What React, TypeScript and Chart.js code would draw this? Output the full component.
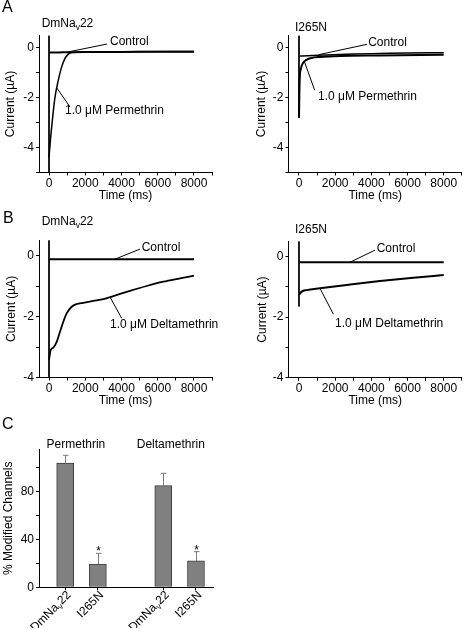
import React, { useEffect, useRef } from 'react';
import { Chart, registerables } from 'chart.js';

Chart.register(...registerables);

const FONT = "'Liberation Sans', Arial, Helvetica, sans-serif";
Chart.defaults.font.family = FONT;
Chart.defaults.font.size = 12;
Chart.defaults.color = '#000';

// ---------- shared axes ----------
const TIME_TICKS = [0, 1000, 2000, 3000, 4000, 5000, 6000, 7000, 8000, 9000];
const TIME_LABELS = [0, 2000, 4000, 6000, 8000];
const A_CURRENT_TICKS = [-5, -4, -3, -2, -1, 0];
const B_CURRENT_TICKS = [-4, -3, -2, -1, 0];
const CURRENT_LABELS = [-4, -2, 0];

// ---------- Panel A: permethrin ----------
const A_WT_CTRL_T = [0, 500, 1000, 2000, 4000, 6000, 8000];
const A_WT_CTRL_I = [-0.18, -0.18, -0.17, -0.16, -0.16, -0.15, -0.15];
const A_WT_PER_T = [0, 93, 203, 331, 515, 699, 883, 1067, 1250, 2000, 4000, 8000];
const A_WT_PER_I = [-4.39, -3.58, -2.77, -1.97, -1.29, -0.76, -0.42, -0.25, -0.18, -0.16, -0.15, -0.14];
const A_WT_TRANS_T = [0, 0];
const A_WT_TRANS_I = [0.5, -5];

const A_MUT_CTRL_T = [0, 500, 1500, 3000, 4500, 6000, 8000];
const A_MUT_CTRL_I = [-0.33, -0.31, -0.28, -0.24, -0.22, -0.2, -0.19];
const A_MUT_PER_T = [0, 37, 110, 200, 385, 700, 1160, 2270, 4480, 8000];
const A_MUT_PER_I = [-2.8, -1.29, -0.82, -0.63, -0.49, -0.4, -0.36, -0.32, -0.3, -0.27];
const A_MUT_TRANS_T = [0, 0];
const A_MUT_TRANS_I = [0.5, -2.8];

// ---------- Panel B: deltamethrin ----------
const B_WT_CTRL_T = [0, 2000, 4000, 6000, 8000];
const B_WT_CTRL_I = [-0.12, -0.12, -0.12, -0.12, -0.12];
const B_WT_DEL_T = [0, 94, 237, 425, 607, 790, 975, 1250, 1530, 1895, 2447, 3000, 3550, 4470, 5390, 6310, 7230, 8000];
const B_WT_DEL_I = [-3.43, -3.1, -3.02, -2.83, -2.5, -2.17, -1.9, -1.68, -1.59, -1.55, -1.49, -1.43, -1.33, -1.16, -1.0, -0.86, -0.75, -0.66];
const B_WT_TRANS_T = [0, 0];
const B_WT_TRANS_I = [0.5, -4];

const B_MUT_CTRL_T = [0, 2000, 4000, 6000, 8000];
const B_MUT_CTRL_I = [-0.19, -0.19, -0.19, -0.19, -0.19];
const B_MUT_DEL_T = [0, 150, 425, 1160, 2640, 4480, 6320, 8000];
const B_MUT_DEL_I = [-1.27, -1.16, -1.11, -1.05, -0.94, -0.81, -0.7, -0.61];
const B_MUT_TRANS_T = [0, 0];
const B_MUT_TRANS_I = [0.5, -1.65];

// ---------- Panel C: % modified channels ----------
const C_POS = [1, 2, 4, 5];
const C_VALUES = [103.6, 19.4, 84.7, 22.0];
const C_ERRORS = [6.4, 8.9, 10.3, 7.7];
const C_SIGNIFICANT = [false, true, false, true];
const C_GROUPS = ['Permethrin', 'Deltamethrin'];
const C_TICKS = [0, 20, 40, 60, 80, 100];
const C_LABELS = [0, 40, 80];

type Seg = { t: string; sub?: boolean };
const DMNAV22: Seg[] = [{ t: 'DmNa' }, { t: 'v', sub: true }, { t: '22' }];
const I265N: Seg[] = [{ t: 'I265N' }];
const C_CATEGORY_LABELS: Seg[][] = [DMNAV22, I265N, DMNAV22, I265N];

// ---------- helpers ----------
function setFont(ctx: CanvasRenderingContext2D, size: number) {
  ctx.font = `${size}px ${FONT}`;
}
function richWidth(ctx: CanvasRenderingContext2D, segs: Seg[], size: number) {
  let w = 0;
  for (const s of segs) {
    setFont(ctx, s.sub ? size * 0.7 : size);
    w += ctx.measureText(s.t).width;
  }
  return w;
}
function drawRich(ctx: CanvasRenderingContext2D, segs: Seg[], x: number, y: number, size: number, align: 'left' | 'center' | 'right') {
  const w = richWidth(ctx, segs, size);
  let cx = align === 'right' ? x - w : align === 'center' ? x - w / 2 : x;
  ctx.textAlign = 'left';
  ctx.textBaseline = 'middle';
  ctx.fillStyle = '#000';
  for (const s of segs) {
    const sz = s.sub ? size * 0.7 : size;
    setFont(ctx, sz);
    ctx.fillText(s.t, cx, s.sub ? y + size * 0.32 : y);
    cx += ctx.measureText(s.t).width;
  }
}

type Rect = { left: number; top: number; w: number; h: number };
type Area = { left: number; top: number; right: number; bottom: number };
type Note = { segs: Seg[]; tx: number; ty: number; lx1: number; ly1: number; lx2: number; ly2: number };
type Label = { segs: Seg[]; x: number; y: number; size: number };

type LinePanel = {
  rect: Rect;
  area: Area;
  xMin: number;
  xMax: number;
  yMin: number;
  yMax: number;
  yTicks: number[];
  yTitleX: number;
  xTitleY: number;
  traces: { t: number[]; i: number[]; w: number }[];
  transient: { t: number[]; i: number[] };
  notes: Note[];
  labels: Label[];
};

function layoutFor(rect: Rect, area: Area, yTitleX: number, xTitleY: number | null) {
  const L = area.left - rect.left;
  const T = area.top - rect.top;
  const R = area.right - rect.left;
  const B = area.bottom - rect.top;
  const half = 7.2;
  const padLeft = yTitleX - half;
  const yW = L - padLeft;
  const scaleBottom = xTitleY == null ? rect.h : xTitleY + half;
  const xH = scaleBottom - B;
  const padBottom = rect.h - scaleBottom;
  return { padding: { left: padLeft, top: T, right: rect.w - R, bottom: padBottom }, yW, xH };
}

function linePanelConfig(p: LinePanel): any {
  const lay = layoutFor(p.rect, p.area, p.yTitleX, p.xTitleY);
  const plugin = {
    id: 'notes',
    afterDatasetsDraw(chart: any) {
      const ctx = chart.ctx as CanvasRenderingContext2D;
      const xs = chart.scales.x;
      const ys = chart.scales.y;
      ctx.save();
      ctx.strokeStyle = '#000';
      ctx.lineWidth = 1;
      for (const n of p.notes) {
        ctx.beginPath();
        ctx.moveTo(xs.getPixelForValue(n.lx1), ys.getPixelForValue(n.ly1));
        ctx.lineTo(xs.getPixelForValue(n.lx2), ys.getPixelForValue(n.ly2));
        ctx.stroke();
        drawRich(ctx, n.segs, xs.getPixelForValue(n.tx), ys.getPixelForValue(n.ty), 12, 'left');
      }
      for (const l of p.labels) {
        drawRich(ctx, l.segs, l.x, l.y, l.size, 'left');
      }
      ctx.restore();
    },
  };
  const datasets: any[] = p.traces.map((tr) => ({
    data: tr.t.map((t, k) => ({ x: t, y: tr.i[k] })),
    borderColor: '#000',
    borderWidth: tr.w,
    pointRadius: 0,
    fill: false,
    cubicInterpolationMode: 'monotone',
  }));
  datasets.push({
    data: p.transient.t.map((t, k) => ({ x: t, y: p.transient.i[k] })),
    borderColor: '#000',
    borderWidth: 1,
    pointRadius: 0,
    fill: false,
    tension: 0,
  });
  return {
    type: 'line',
    data: { datasets },
    options: {
      responsive: false,
      animation: false,
      events: [],
      layout: { padding: lay.padding },
      plugins: { legend: { display: false }, tooltip: { enabled: false }, title: { display: false } },
      scales: {
        x: {
          type: 'linear',
          min: p.xMin,
          max: p.xMax,
          afterBuildTicks: (s: any) => {
            s.ticks = TIME_TICKS.map((v) => ({ value: v }));
          },
          afterFit: (s: any) => {
            s.height = lay.xH;
          },
          ticks: {
            autoSkip: false,
            maxRotation: 0,
            minRotation: 0,
            padding: 1,
            color: '#000',
            font: { size: 12 },
            callback: (v: number) => (TIME_LABELS.includes(v) ? String(v) : ''),
          },
          grid: { drawOnChartArea: false, drawTicks: true, tickLength: 3, color: '#000' },
          border: { display: true, color: '#000', width: 1 },
          title: { display: true, text: 'Time (ms)', color: '#000', font: { size: 12 }, padding: 0 },
        },
        y: {
          type: 'linear',
          min: p.yMin,
          max: p.yMax,
          afterBuildTicks: (s: any) => {
            s.ticks = p.yTicks.map((v) => ({ value: v }));
          },
          afterFit: (s: any) => {
            s.width = lay.yW;
          },
          ticks: {
            autoSkip: false,
            padding: 2,
            color: '#000',
            font: { size: 12 },
            callback: (v: number) => (CURRENT_LABELS.includes(v) ? String(v) : ''),
          },
          grid: { drawOnChartArea: false, drawTicks: true, tickLength: 3, color: '#000' },
          border: { display: true, color: '#000', width: 1 },
          title: { display: true, text: 'Current (\u00B5A)', color: '#000', font: { size: 12 }, padding: 0 },
        },
      },
    },
    plugins: [plugin],
  };
}

function barPanelConfig(): any {
  const rect: Rect = { left: 0, top: 415, w: 232, h: 213 };
  const area: Area = { left: 39, top: 449.3, right: 213.3, bottom: 587.3 };
  const lay = layoutFor(rect, area, 8.3, null);
  const plugin = {
    id: 'barExtras',
    afterDatasetsDraw(chart: any) {
      const ctx = chart.ctx as CanvasRenderingContext2D;
      const xs = chart.scales.x;
      const ys = chart.scales.y;
      const bottom = chart.chartArea.bottom;
      ctx.save();
      // error bars (upper only)
      ctx.strokeStyle = '#7a7a7a';
      ctx.lineWidth = 1;
      C_POS.forEach((pos, i) => {
        const px = Math.round(xs.getPixelForValue(pos)) + 0.5;
        const yTop = ys.getPixelForValue(C_VALUES[i]);
        const yErr = ys.getPixelForValue(C_VALUES[i] + C_ERRORS[i]);
        ctx.beginPath();
        ctx.moveTo(px, yTop);
        ctx.lineTo(px, yErr);
        ctx.moveTo(px - 2.5, yErr);
        ctx.lineTo(px + 3, yErr);
        ctx.stroke();
        if (C_SIGNIFICANT[i]) {
          setFont(ctx, 12);
          ctx.fillStyle = '#000';
          ctx.textAlign = 'center';
          ctx.textBaseline = 'alphabetic';
          ctx.fillText('*', px, yErr + 2);
        }
      });
      // rotated category labels
      C_POS.forEach((pos, i) => {
        const px = xs.getPixelForValue(pos);
        ctx.save();
        ctx.translate(px + 4, bottom + 6);
        ctx.rotate(-Math.PI / 4);
        drawRich(ctx, C_CATEGORY_LABELS[i], 0, 0, 12, 'right');
        ctx.restore();
      });
      // group labels
      const groupX = [xs.getPixelForValue(1.33), xs.getPixelForValue(4.23)];
      C_GROUPS.forEach((g, i) => {
        drawRich(ctx, [{ t: g }], groupX[i], 30, 12, 'center');
      });
      // panel letter
      drawRich(ctx, [{ t: 'C' }], 2, 10, 16, 'left');
      ctx.restore();
    },
  };
  return {
    type: 'bar',
    data: {
      datasets: [
        {
          data: C_POS.map((x, i) => ({ x, y: C_VALUES[i] })),
          backgroundColor: '#808080',
          borderColor: '#3c3c3c',
          borderWidth: 1,
          barThickness: 17,
        },
      ],
    },
    options: {
      responsive: false,
      animation: false,
      events: [],
      layout: { padding: lay.padding },
      plugins: { legend: { display: false }, tooltip: { enabled: false } },
      scales: {
        x: {
          type: 'linear',
          offset: false,
          min: 0.2,
          max: 5.53,
          afterBuildTicks: (s: any) => {
            s.ticks = C_POS.map((v) => ({ value: v }));
          },
          afterFit: (s: any) => {
            s.height = lay.xH;
          },
          ticks: { autoSkip: false, maxRotation: 0, callback: () => '' },
          grid: { offset: false, drawOnChartArea: false, drawTicks: true, tickLength: 3, color: '#000' },
          border: { display: true, color: '#000', width: 1 },
        },
        y: {
          type: 'linear',
          min: 0,
          max: 115,
          afterBuildTicks: (s: any) => {
            s.ticks = C_TICKS.map((v) => ({ value: v }));
          },
          afterFit: (s: any) => {
            s.width = lay.yW;
          },
          ticks: {
            autoSkip: false,
            padding: 2,
            color: '#000',
            font: { size: 12 },
            callback: (v: number) => (C_LABELS.includes(v) ? String(v) : ''),
          },
          grid: { drawOnChartArea: false, drawTicks: true, tickLength: 3, color: '#000' },
          border: { display: true, color: '#000', width: 1 },
          title: { display: true, text: '% Modified Channels', color: '#000', font: { size: 12 }, padding: 0 },
        },
      },
    },
    plugins: [plugin],
  };
}

const PERM: Seg[] = [{ t: '1.0 \u03BCM Permethrin' }];
const DELTA: Seg[] = [{ t: '1.0 \u03BCM Deltamethrin' }];
const CONTROL: Seg[] = [{ t: 'Control' }];

const PANEL_A_WT: LinePanel = {
  rect: { left: 0, top: 0, w: 232, h: 208 },
  area: { left: 39, top: 35.5, right: 212.1, bottom: 172.5 },
  xMin: -552,
  xMax: 9000,
  yMin: -5,
  yMax: 0.5,
  yTicks: A_CURRENT_TICKS,
  yTitleX: 11,
  xTitleY: 196,
  traces: [
    { t: A_WT_CTRL_T, i: A_WT_CTRL_I, w: 2 },
    { t: A_WT_PER_T, i: A_WT_PER_I, w: 1.5 },
  ],
  transient: { t: A_WT_TRANS_T, i: A_WT_TRANS_I },
  notes: [
    { segs: CONTROL, tx: 3366, ty: 0.25, lx1: 3200, ly1: 0.157, lx2: 1048, ly2: -0.16 },
    { segs: PERM, tx: 883, ty: -2.5, lx1: 1159, ly1: -2.37, lx2: 425, ly2: -1.6 },
  ],
  labels: [
    { segs: [{ t: 'A' }], x: 2, y: 8, size: 16 },
    { segs: DMNAV22, x: 41.7, y: 24, size: 12 },
  ],
};

const PANEL_A_MUT: LinePanel = {
  rect: { left: 232, top: 0, w: 232, h: 208 },
  area: { left: 288.5, top: 35.5, right: 461.8, bottom: 172.5 },
  xMin: -580,
  xMax: 9000,
  yMin: -5,
  yMax: 0.5,
  yTicks: A_CURRENT_TICKS,
  yTitleX: 30,
  xTitleY: 196,
  traces: [
    { t: A_MUT_CTRL_T, i: A_MUT_CTRL_I, w: 1.4 },
    { t: A_MUT_PER_T, i: A_MUT_PER_I, w: 2 },
  ],
  transient: { t: A_MUT_TRANS_T, i: A_MUT_TRANS_I },
  notes: [
    { segs: CONTROL, tx: 3824, ty: 0.21, lx1: 3759, ly1: 0.145, lx2: 1089, ly2: -0.27 },
    { segs: PERM, tx: 1050, ty: -1.97, lx1: 868, ly1: -1.7, lx2: 300, ly2: -0.55 },
  ],
  labels: [{ segs: I265N, x: 63, y: 28, size: 12 }],
};

const PANEL_B_WT: LinePanel = {
  rect: { left: 0, top: 208, w: 232, h: 207 },
  area: { left: 39, top: 240.25, right: 212.1, bottom: 377.5 },
  xMin: -552,
  xMax: 9000,
  yMin: -4,
  yMax: 0.5,
  yTicks: B_CURRENT_TICKS,
  yTitleX: 12,
  xTitleY: 192.7,
  traces: [
    { t: B_WT_CTRL_T, i: B_WT_CTRL_I, w: 2 },
    { t: B_WT_DEL_T, i: B_WT_DEL_I, w: 1.8 },
  ],
  transient: { t: B_WT_TRANS_T, i: B_WT_TRANS_I },
  notes: [
    { segs: CONTROL, tx: 5114, ty: 0.27, lx1: 5020, ly1: 0.21, lx2: 3641, ly2: -0.12 },
    { segs: DELTA, tx: 3366, ty: -2.28, lx1: 4011, ly1: -2.06, lx2: 3366, ly2: -1.36 },
  ],
  labels: [
    { segs: [{ t: 'B' }], x: 3, y: 11, size: 16 },
    { segs: DMNAV22, x: 41.7, y: 14, size: 12 },
  ],
};

const PANEL_B_MUT: LinePanel = {
  rect: { left: 232, top: 208, w: 232, h: 207 },
  area: { left: 288.5, top: 241.35, right: 461.8, bottom: 377.7 },
  xMin: -580,
  xMax: 9000,
  yMin: -4,
  yMax: 0.5,
  yTicks: B_CURRENT_TICKS,
  yTitleX: 30.5,
  xTitleY: 192.7,
  traces: [
    { t: B_MUT_CTRL_T, i: B_MUT_CTRL_I, w: 1.8 },
    { t: B_MUT_DEL_T, i: B_MUT_DEL_I, w: 2 },
  ],
  transient: { t: B_MUT_TRANS_T, i: B_MUT_TRANS_I },
  notes: [
    { segs: CONTROL, tx: 4295, ty: 0.27, lx1: 4201, ly1: 0.21, lx2: 2819, ly2: -0.19 },
    { segs: DELTA, tx: 1990, ty: -2.23, lx1: 1896, ly1: -1.9, lx2: 1161, ly2: -1.05 },
  ],
  labels: [{ segs: I265N, x: 63, y: 22, size: 12 }],
};

function ChartCanvas({ rect, build }: { rect: Rect; build: () => any }) {
  const ref = useRef<HTMLCanvasElement | null>(null);
  useEffect(() => {
    if (!ref.current) return;
    const chart = new Chart(ref.current, build());
    return () => chart.destroy();
  }, []);
  return (
    <canvas
      ref={ref}
      width={rect.w}
      height={rect.h}
      style={{ position: 'absolute', left: rect.left, top: rect.top, width: rect.w, height: rect.h }}
    />
  );
}

export default function App() {
  const panels = [PANEL_A_WT, PANEL_A_MUT, PANEL_B_WT, PANEL_B_MUT];
  return (
    <div style={{ position: 'absolute', left: 0, top: 0, width: 464, height: 628, background: '#fff', overflow: 'hidden' }}>
      {panels.map((p, k) => (
        <ChartCanvas key={k} rect={p.rect} build={() => linePanelConfig(p)} />
      ))}
      <ChartCanvas rect={{ left: 0, top: 415, w: 232, h: 213 }} build={barPanelConfig} />
    </div>
  );
}
